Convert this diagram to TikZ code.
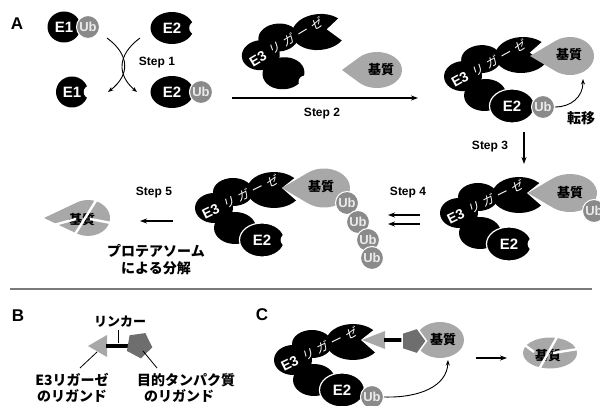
\documentclass[tikz,border=0pt]{standalone}
\usepackage{fontspec}
\setmainfont{Liberation Sans}
\newfontfamily\jp{Noto Sans CJK JP}
\newfontfamily\jpi{Noto Sans CJK JP}[FakeSlant=0.2]
\usetikzlibrary{arrows.meta,shapes.geometric}

\definecolor{ubgray}{HTML}{8A8A8A}
\definecolor{subgray}{HTML}{A8A8A8}
\definecolor{pentgray}{HTML}{6E6E6E}
\definecolor{rulegray}{HTML}{7A7A7A}

\tikzset{
  enzyme/.style={ellipse, fill=black, inner sep=0pt, text=white,
    font=\bfseries\fontsize{15}{15}\selectfont},
  bound/.style={draw=white, line width=1.2pt},
  ub/.style={circle, fill=ubgray, draw=white, line width=1pt, minimum size=23pt,
    inner sep=0pt, text=white!92!black, font=\bfseries\fontsize{13}{13}\selectfont},
  steplbl/.style={font=\bfseries\fontsize{12}{12}\selectfont, inner sep=0pt},
  panel/.style={font=\bfseries\fontsize{17}{17}\selectfont, inner sep=0pt},
  jplbl/.style={font=\jp\bfseries\fontsize{14}{14}\selectfont, inner sep=0pt},
  subtxt/.style={font=\jp\bfseries\fontsize{13}{13}\selectfont, inner sep=0pt},
  flow/.style={line width=1.1pt, -{Stealth[length=7pt,width=5pt]}},
  flowthin/.style={line width=0.9pt, -{Stealth[length=5.5pt,width=4pt]}},
  cut/.style={white, line width=2.4pt},
  e3label/.style={text=white, inner sep=0pt, anchor=center},
}

% E3 ligase: four merged lobes, the top one with a wedge-shaped mouth
% #1 name, #2/#3 centre of the top lobe, #4 rotation
\newcommand\EthreeAt[4]{%
  \begin{scope}[shift={(#2,#3)},rotate=#4]
    \fill[black] (-41,2) ellipse[x radius=20,y radius=14];
    \fill[black] (-60,18) ellipse[x radius=19,y radius=15];
    \fill[black] (-39,38) ellipse[x radius=21,y radius=16];
    \fill[black] (0,0) ellipse[x radius=27,y radius=18];
    \fill[white] (8,-2) -- (32,-21) -- (32,19) -- cycle;
    \node[e3label, rotate=26+#4] (#1-lbl) at (-34,7)
      {\bfseries\fontsize{14}{14}\selectfont E3\hspace{5pt}\jpi\mdseries\fontsize{12}{12}\selectfont
       リ\kern4ptガ\kern4ptー\kern4ptゼ};
  \end{scope}}

% substrate teardrop: #1/#2 body centre, #3/#4 radii, #5 tip distance, #6 colour
\newcommand\Teardrop[6]{%
  \pgfmathsetmacro\tdang{acos(-#3/#5)}%
  \fill[#6, shift={(#1,#2)}] (-#5,0) -- ({360-\tdang}:#3 and #4)
    arc[start angle={360-\tdang}, end angle={360+\tdang}, x radius=#3, y radius=#4] -- cycle;}

% white bite on the right side of an enzyme node
\newcommand\Notch[1]{\fill[white] ([xshift=2pt]#1.east) circle[radius=6.5pt];}

\begin{document}
\begin{tikzpicture}[x=1pt,y=-1pt]
\useasboundingbox (0,0) rectangle (600,406);
\clip (0,0) rectangle (600,406);

% ---------------- Panel A ----------------
\node[panel] (pA) at (17,24) {A};

% Step 1: E1~Ub hands ubiquitin to E2
\node[enzyme, minimum width=33pt, minimum height=31pt] (e1ub) at (64,27) {E1};
\node[ub] (ub1) at (88,27) {Ub};
\node[enzyme, minimum width=43pt, minimum height=32pt] (e2free) at (172,28) {E2};
\Notch{e2free}
\node[enzyme, minimum width=32pt, minimum height=31pt] (e1free) at (72,92) {E1};
\Notch{e1free}
\node[enzyme, minimum width=43pt, minimum height=32pt] (e2ub) at (172,92) {E2};
\Notch{e2ub}
\node[ub] (ub2) at (201,92) {Ub};

\coordinate (c1a) at (107,38); \coordinate (c1b) at (108,92);
\coordinate (c2a) at (140,38); \coordinate (c2b) at (137,92);
\draw[flowthin] (c1a) .. controls (130,55) and (130,75) .. (c1b);
\draw[flowthin] (c2a) .. controls (117,55) and (117,75) .. (c2b);
\node[steplbl] (s1) at (157,63) {Step 1};

% Step 2: E3 ligase and substrate
\EthreeAt{s2}{319}{32}{5}
\fill[white] (305,82) circle[radius=6.5pt];
\Teardrop{377}{70}{25}{18}{35}{subgray}
\node[subtxt] (sub2) at (381,70) {基質};
\coordinate (st2a) at (232,98); \coordinate (st2b) at (418,98);
\draw[flow] (st2a) -- (st2b);
\node[steplbl] (s2) at (322,114) {Step 2};

% complex with E2~Ub: transfer
\EthreeAt{tr}{522}{55}{3}
\Teardrop{570}{56}{24}{19}{40}{subgray}
\node[subtxt] (subtr) at (569,55) {基質};
\node[enzyme, bound, minimum width=45pt, minimum height=34pt] (e2tr) at (512,106) {E2};
\node[ub] (ubtr) at (543,107) {Ub};
\coordinate (trtip) at (583,79);
\draw[flowthin] (ubtr.east) .. controls (571,107) and (583,97) .. (trtip);
\node[jplbl] (tenni) at (581,118) {転移};

% Step 3
\coordinate (st3a) at (524,132); \coordinate (st3b) at (524,164);
\draw[flow] (st3a) -- (st3b);
\node[steplbl] (s3) at (490,147) {Step 3};

% complex after one transfer
\EthreeAt{rl}{519}{195}{0}
\node[enzyme, bound, minimum width=45pt, minimum height=34pt] (e2rl) at (509,244) {E2};
\Notch{e2rl}
\Teardrop{570}{193}{27}{19}{42}{subgray}
\node[subtxt] (subrl) at (570,193) {基質};
\node[ub] (ubrl) at (594,211) {Ub};

% Step 4
\coordinate (st4a) at (420,215); \coordinate (st4b) at (388,215);
\coordinate (st4c) at (420,224); \coordinate (st4d) at (388,224);
\draw[flow] (st4a) -- (st4b);
\draw[flow] (st4c) -- (st4d);
\node[steplbl] (s4) at (408,193) {Step 4};

% polyubiquitinated substrate
\EthreeAt{m}{274}{190}{0}
\node[enzyme, bound, minimum width=45pt, minimum height=34pt] (e2m) at (262,240) {E2};
\Notch{e2m}
\Teardrop{324}{188}{26}{19.5}{42}{subgray}
\node[subtxt] (subm) at (321,187) {基質};
\node[ub] (ubm1) at (347,203) {Ub};
\node[ub] (ubm2) at (358,222) {Ub};
\node[ub] (ubm3) at (368,240) {Ub};
\node[ub] (ubm4) at (372,258) {Ub};

% Step 5: degradation
\coordinate (st5a) at (173,221); \coordinate (st5b) at (140,221);
\draw[flow] (st5a) -- (st5b);
\node[steplbl] (s5) at (154,193) {Step 5};
\node[jplbl] (pt1) at (156,251) {プロテアソーム};
\node[jplbl] (pt2) at (156,268) {による分解};

\Teardrop{88}{218}{22}{18}{44}{subgray}
\node[subtxt] (fragA) at (82,220) {基質};
\draw[cut] (50,226) -- (76,219);
\draw[cut] (97,199) -- (72,239);
\draw[cut] (90,219) -- (111,223);

% separator
\coordinate (rl1) at (10,289); \coordinate (rl2) at (592,289);
\draw[rulegray, line width=1.5pt] (rl1) -- (rl2);

% ---------------- Panel B ----------------
\node[panel] (pB) at (18,316) {B};
\node[jplbl, font=\jp\bfseries\fontsize{13}{13}\selectfont] (linker) at (120,322) {リンカー};
\coordinate (tkb) at (118,343);
\draw[line width=1pt] (linker.south -| tkb) ++(0,2) -- (tkb);
\fill[subgray] (88,346) -- (107,335) -- (107,357) -- cycle;
\coordinate (triB) at (97,352);
\draw[line width=4pt] (106,346) -- (130,346);
\node[regular polygon, regular polygon sides=5, shape border rotate=-100,
  fill=pentgray, minimum size=27pt, inner sep=0pt] (pentB) at (139,345) {};
\node[jplbl] (lgE3a) at (72,380) {E3リガーゼ};
\node[jplbl] (lgE3b) at (72,396) {のリガンド};
\node[jplbl] (lgPa) at (186,380) {目的タンパク質};
\node[jplbl] (lgPb) at (179,396) {のリガンド};
\coordinate (lnA) at (80,368); \coordinate (lnB) at (157,368);
\coordinate (pnB) at (143,351);
\draw[line width=0.8pt] (triB) -- (lnA);
\draw[line width=0.8pt] (pnB) -- (lnB);

% ---------------- Panel C ----------------
\node[panel] (pC) at (262,315) {C};
\EthreeAt{c}{353}{342}{0}
\node[enzyme, bound, minimum width=45pt, minimum height=34pt] (e2c) at (342,390) {E2};
\node[ub] (ubc) at (372,397) {Ub};
\fill[subgray] (362,340) -- (385,331) -- (385,349) -- cycle;
\draw[line width=4pt] (384,340) -- (405,340);
\node[ellipse, fill=subgray, minimum width=48pt, minimum height=36pt, inner sep=0pt] (subc) at (440,340) {};
\node[regular polygon, regular polygon sides=5, shape border rotate=-90,
  fill=pentgray, draw=white, line width=1.5pt, minimum size=27pt, inner sep=0pt] (pentC) at (413,341) {};
\node[subtxt] (subctxt) at (443,340) {基質};
\coordinate (ctip) at (448,360);
\draw[flowthin] (ubc.east) .. controls (420,398) and (447,386) .. (ctip);
\coordinate (ca) at (476,358); \coordinate (cb) at (507,358);
\draw[flow] (ca) -- (cb);

\node[ellipse, fill=subgray, minimum width=54pt, minimum height=31pt, inner sep=0pt] (fragC) at (550,353) {};
\node[subtxt] (fragCtxt) at (548,356) {基質};
\draw[cut] (557,337) -- (538,371);
\draw[cut] (522,343) -- (534,352);
\draw[cut] (553,353) -- (578,349);

\end{tikzpicture}
\end{document}
